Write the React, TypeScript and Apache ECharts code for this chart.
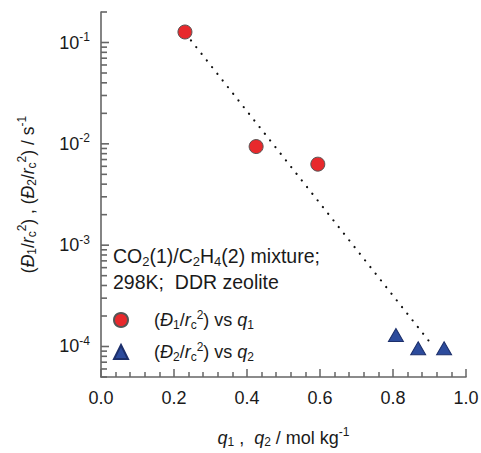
import React, { useEffect, useRef } from "react";
import * as echarts from "echarts";

// Diffusivity ratios (1/s) against component loading (mol/kg)
const co2Loading = [0.23, 0.425, 0.594];
const co2Diffusivity = [0.127, 0.0094, 0.0063];
const c2h4Loading = [0.808, 0.869, 0.94];
const c2h4Diffusivity = [1.3e-4, 9.6e-5, 9.6e-5];

// Dotted trend line end points
const trendLoading = [0.232, 0.897];
const trendDiffusivity = [0.122, 1.15e-4];

// Axis ticks
const xTickLabels = ["0.0", "0.2", "0.4", "0.6", "0.8", "1.0"];
const yDecades = [1e-4, 1e-3, 1e-2, 1e-1];
const yMinorTicks = [
  5e-5, 6e-5, 7e-5, 8e-5, 9e-5,
  2e-4, 3e-4, 4e-4, 5e-4, 6e-4, 7e-4, 8e-4, 9e-4,
  2e-3, 3e-3, 4e-3, 5e-3, 6e-3, 7e-3, 8e-3, 9e-3,
  2e-2, 3e-2, 4e-2, 5e-2, 6e-2, 7e-2, 8e-2, 9e-2,
  2e-1,
];

const FONT = "'Liberation Sans', Arial, Helvetica, sans-serif";
const TEXT = "#1a1a1a";
const AXIS = "#666666";

const makeRich = (size: number, small: number) => ({
  it: { fontStyle: "italic", fontSize: size, fontFamily: FONT, color: TEXT },
  sub: { fontSize: small, fontFamily: FONT, color: TEXT, padding: [Math.round(size * 0.5), 0, 0, 0] },
  sup: { fontSize: small, fontFamily: FONT, color: TEXT, padding: [0, 0, Math.round(size * 0.6), 0] },
  gap: { width: 21 },
});

export default function App() {
  const ref = useRef<HTMLDivElement>(null);

  useEffect(() => {
    document.body.style.margin = "0";
    if (!ref.current) return;
    const chart = echarts.init(ref.current, null, { renderer: "svg" });

    chart.setOption({
      animation: false,
      backgroundColor: "#ffffff",
      textStyle: { fontFamily: FONT, color: TEXT },
      grid: { left: 101, right: 15, top: 12, bottom: 76, containLabel: false, outerBoundsMode: "none" },
      legend: {
        data: ["d1", "d2"],
        orient: "vertical",
        left: 113,
        top: 307,
        padding: 0,
        itemWidth: 14,
        itemHeight: 14,
        itemGap: 6,
        selectedMode: false,
        textStyle: { fontSize: 18, fontFamily: FONT, color: TEXT, lineHeight: 26, rich: makeRich(18, 12) },
        formatter: (name: string) =>
          name === "d1"
            ? "{gap|}({it|Đ}{sub|1}/{it|r}{sub|c}{sup|2}) vs {it|q}{sub|1}"
            : "{gap|}({it|Đ}{sub|2}/{it|r}{sub|c}{sup|2}) vs {it|q}{sub|2}",
      },
      xAxis: {
        type: "value",
        min: 0,
        max: 1,
        interval: 0.2,
        name: "{it|q}{sub|1} ,  {it|q}{sub|2} / mol kg{sup|-1}",
        nameLocation: "middle",
        nameGap: 49,
        nameTextStyle: { fontSize: 18, fontFamily: FONT, color: TEXT, rich: makeRich(18, 12) },
        axisLine: { onZero: false, lineStyle: { color: AXIS, width: 1.6 } },
        axisTick: { inside: true, length: 8, lineStyle: { color: AXIS, width: 1.5 } },
        minorTick: { show: true, splitNumber: 5, length: 5, lineStyle: { color: AXIS, width: 1.5 } },
        splitLine: { show: false },
        minorSplitLine: { show: false },
        axisLabel: {
          fontSize: 18,
          fontFamily: FONT,
          color: TEXT,
          margin: 12,
          formatter: (v: number) => xTickLabels[Math.round(v / 0.2)] ?? "",
        },
      },
      yAxis: {
        type: "log",
        logBase: 10,
        min: 5e-5,
        max: 0.2,
        name: "({it|Đ}{sub|1}/{it|r}{sub|c}{sup|2}) , ({it|Đ}{sub|2}/{it|r}{sub|c}{sup|2}) / s{sup|-1}",
        nameLocation: "middle",
        nameGap: 62,
        nameTextStyle: { fontSize: 17.5, fontFamily: FONT, color: TEXT, rich: makeRich(17.5, 12) },
        axisLine: { onZero: false, lineStyle: { color: AXIS, width: 1.6 } },
        axisTick: { show: false },
        splitLine: { show: false },
        axisLabel: {
          fontSize: 18,
          fontFamily: FONT,
          color: TEXT,
          margin: 11,
          rich: makeRich(18, 12),
          formatter: (v: number) => {
            const e = Math.log10(v);
            if (Math.abs(e - Math.round(e)) > 1e-6) return "";
            return "10{sup|" + Math.round(e) + "}";
          },
        },
      },
      series: [
        {
          type: "line",
          symbol: "none",
          data: trendLoading.map((x, i) => [x, trendDiffusivity[i]]),
          lineStyle: { color: "#111111", width: 2.2, type: [0.1, 8.4], cap: "round" },
          z: 1,
        },
        {
          name: "d1",
          type: "scatter",
          symbol: "circle",
          symbolSize: 14,
          data: co2Loading.map((x, i) => [x, co2Diffusivity[i]]),
          itemStyle: { color: "#e8292c", borderColor: "#555555", borderWidth: 1, opacity: 1 },
          z: 3,
        },
        {
          name: "d2",
          type: "scatter",
          symbol: "triangle",
          symbolSize: [15, 13],
          data: c2h4Loading.map((x, i) => [x, c2h4Diffusivity[i]]),
          itemStyle: { color: "#2c4b9c", borderColor: "#1c2f6b", borderWidth: 1, opacity: 1 },
          z: 3,
        },
      ],
    });

    // Inward ticks on the logarithmic axis, placed through the axis scales
    const axisX = chart.convertToPixel({ xAxisIndex: 0 }, 0) as number;
    const tick = (v: number, len: number) => {
      const py = chart.convertToPixel({ yAxisIndex: 0 }, v) as number;
      return {
        type: "line",
        z: 100,
        shape: { x1: axisX, y1: py, x2: axisX + len, y2: py },
        style: { stroke: AXIS, lineWidth: 1.6 },
      };
    };

    chart.setOption({
      graphic: [
        ...yDecades.map((v) => tick(v, 8)),
        ...yMinorTicks.map((v) => tick(v, 6)),
        {
          type: "text",
          x: 113,
          y: 256,
          style: {
            text: "CO{sub|2}(1)/C{sub|2}H{sub|4}(2) mixture;",
            fontSize: 19.5,
            fontFamily: FONT,
            fill: TEXT,
            verticalAlign: "middle",
            rich: makeRich(19.5, 13),
          },
        },
        {
          type: "text",
          x: 113,
          y: 282,
          style: {
            text: "298K;  DDR zeolite",
            fontSize: 19.5,
            fontFamily: FONT,
            fill: TEXT,
            verticalAlign: "middle",
          },
        },
      ],
    });

    return () => chart.dispose();
  }, []);

  return <div ref={ref} style={{ width: 481, height: 453 }} />;
}
